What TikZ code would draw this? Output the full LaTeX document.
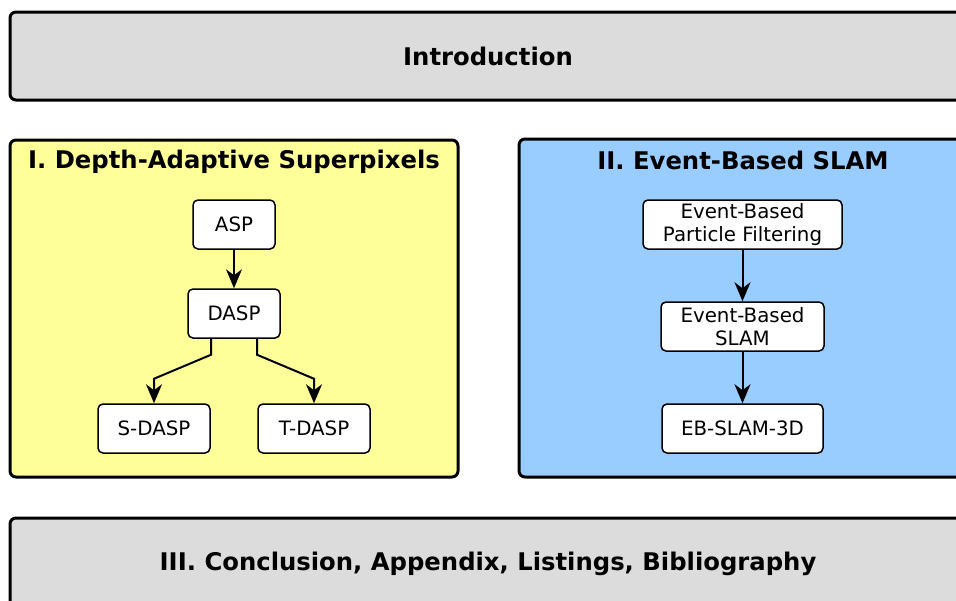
\documentclass[tikz,border=0pt]{standalone}
\usepackage{fontspec}
\setmainfont{DejaVu Sans}
\usetikzlibrary{arrows.meta, positioning}

\definecolor{partgray}{HTML}{DCDCDC}
\definecolor{partyellow}{HTML}{FFFF99}
\definecolor{partblue}{HTML}{99CCFF}

\begin{document}
\begin{tikzpicture}[x=1pt, y=-1pt,
  part/.style={draw, line width=3pt, rounded corners=6pt, inner sep=0pt},
  parttitle/.style={font=\fontsize{24.3}{29}\selectfont\bfseries},
  topic/.style={draw, fill=white, line width=1.5pt, rounded corners=5pt,
    minimum height=49pt, inner sep=2pt, align=center,
    font=\fontsize{19.8}{23}\selectfont},
  edge/.style={line width=2pt, -{Stealth[length=19pt, width=16pt, inset=6pt]}}]
\clip (0,0) rectangle (956,600);
\useasboundingbox (0,0) rectangle (956,600);

% outer parts
\node[part, fill=partgray, minimum width=956pt, minimum height=88pt] (intro) at (488,56) {};
\node[parttitle] at (intro.center) {Introduction};
\node[part, fill=partyellow, minimum width=448pt, minimum height=337pt] (partone) at (234,308.5) {};
\node[parttitle] at ([yshift=-23pt]partone.north) {I. Depth-Adaptive Superpixels};
\node[part, fill=partblue, minimum width=448pt, minimum height=338pt] (parttwo) at (743,308) {};
\node[parttitle] at ([yshift=-23pt]parttwo.north) {II. Event-Based SLAM};
\node[part, fill=partgray, minimum width=956pt, minimum height=88pt] (outro) at (488,562) {};
\node[parttitle] at ([yshift=-2pt]outro.center) {III. Conclusion, Appendix, Listings, Bibliography};

% part I
\node[topic, minimum width=82pt] (asp) at (234,224.5) {ASP};
\node[topic, minimum width=92pt] (dasp) at (234,313.5) {DASP};
\node[topic, minimum width=112pt] (sdasp) at (154,428.5) {S-DASP};
\node[topic, minimum width=112pt] (tdasp) at (314,428.5) {T-DASP};
\draw[edge] (asp) -- (dasp);
\draw[edge] (dasp.south) ++(-23,0) -- ++(0,16) -- ++(-57,24) -- (sdasp.north);
\draw[edge] (dasp.south) ++(23,0) -- ++(0,16) -- ++(57,24) -- (tdasp.north);

% part II
\node[topic, minimum width=199pt] (ebpf) at (742.5,224.5) {Event-Based\\Particle Filtering};
\node[topic, minimum width=163pt] (ebslam) at (742.5,326.5) {Event-Based\\SLAM};
\node[topic, minimum width=161pt] (ebslamthree) at (742.5,428.5) {EB-SLAM-3D};
\draw[edge] (ebpf) -- (ebslam);
\draw[edge] (ebslam) -- (ebslamthree);
\end{tikzpicture}
\end{document}
